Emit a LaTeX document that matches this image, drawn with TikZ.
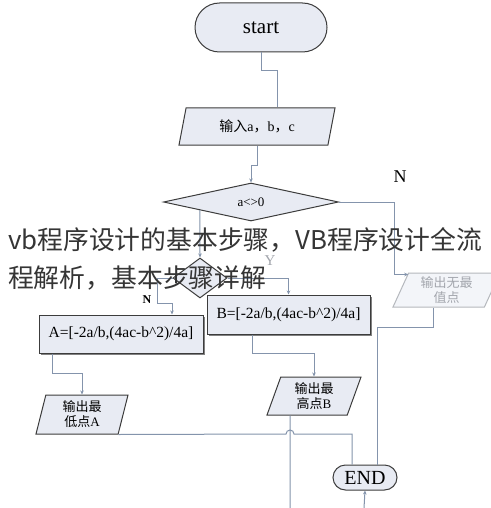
\documentclass[tikz,border=0pt]{standalone}
\usepackage{fontspec}
\setmainfont{Liberation Serif}
\newfontfamily\cjk{Noto Sans CJK SC}
\usetikzlibrary{shapes.geometric,shapes.misc,arrows.meta,shadows,calc}
\definecolor{boxfill}{HTML}{E8EBF3}
\definecolor{boxedge}{HTML}{3C3C3C}
\definecolor{wirec}{HTML}{8494AC}
\definecolor{faint}{HTML}{A3A6AD}
\definecolor{marktext}{HTML}{353535}

\begin{document}
\begin{tikzpicture}[x=1pt,y=-1pt,
    term/.style={rounded rectangle,draw=boxedge,fill=boxfill,line width=1pt,inner sep=0pt},
    io/.style={trapezium,trapezium stretches body,draw=boxedge,fill=boxfill,line width=1pt,
               inner sep=0pt,align=center,font=\fontsize{13}{15}\selectfont},
    work/.style={rectangle,draw=boxedge,fill=boxfill,line width=1pt,inner sep=0pt,
                 font=\fontsize{15.5}{18}\selectfont,
                 drop shadow={shadow xshift=1.5pt,shadow yshift=-1.5pt,opacity=.7,fill=black!70}},
    test/.style={diamond,draw=boxedge,fill=boxfill,line width=1pt,inner sep=0pt},
    wire/.style={draw=wirec,line width=1pt},
    arr/.style={wire,-{Stealth[length=4pt,width=3.5pt]}}]
        \fill[white] (0,0) rectangle (490,508);
        \useasboundingbox (0,0) rectangle (490,508);
        % shapes
        \draw (261,27.5)  node[term,minimum width=132pt,minimum height=49pt,font=\fontsize{21}{24}\selectfont] (start) {start};
        \draw (257,126.5) node[io,minimum width=156pt,minimum height=37pt,trapezium left angle=62,trapezium right angle=118,font=\fontsize{14}{16}\selectfont] (in) {{\cjk 输入}a{\cjk ，}b{\cjk ，}c};
        \draw (251,202)   node[test,minimum width=175pt,minimum height=38pt,font=\fontsize{13}{15}\selectfont] (d1) {a<>0};
        \draw (200,278)   node[test,minimum width=54pt,minimum height=40pt] (d2) {};
        \draw (446.5,290) node[io,draw=faint!80,fill=boxfill!50,text=faint,minimum width=107pt,minimum height=34pt,trapezium left angle=60,trapezium right angle=120] (nomax) {\cjk 输出无最\\\cjk 值点};
        \draw (121,334)   node[work,minimum width=164pt,minimum height=38pt] (A) {A=[-2a/b,(4ac-b\textasciicircum2)/4a]};
        \draw (288.5,314.5) node[work,minimum width=163pt,minimum height=39pt] (B) {B=[-2a/b,(4ac-b\textasciicircum2)/4a]};
        \draw (82,414.5)  node[io,minimum width=92pt,minimum height=39pt,trapezium left angle=70,trapezium right angle=110] (lowA) {{\cjk 输出最}\\{\cjk 低点}A};
        \draw (314,396)   node[io,minimum width=94pt,minimum height=38pt,trapezium left angle=63,trapezium right angle=117] (highB) {{\cjk 输出最}\\{\cjk 高点}B};
        \draw (365,477.5) node[term,minimum width=64pt,minimum height=25pt,font=\fontsize{20}{22}\selectfont] (end) {END};
        % labels
        \node[font=\fontsize{18}{20}\selectfont] (nright) at (400,177) {N};
        \node[font=\fontsize{15}{17}\selectfont,text=faint] (yes) at (270,261) {Y};
        \node[font=\bfseries\fontsize{12}{14}\selectfont] (nleft) at (147,300) {N};
        \coordinate (hop) at (290,434);
        \coordinate (out) at (290,508);
        \coordinate (up) at (364,508);
        % connectors
        \draw[wire] (start.south) -- ++(0,18) -| ([xshift=20pt]in.north);
        \draw[arr] (in.south) -- ++(0,20) -| (d1.north);
        \draw[arr] (d1.east) -| ($(nomax.top left corner)+(-14,2)$) -- ($(nomax.top left corner)+(0,2)$);
        \draw[arr] ($(d1.west)!0.42!(d1.south)$) -- (d2.north);
        \draw[arr] (d2.east) -| (B.north);
        \draw[arr] (d2.west) -| ++(-15,25) -| ([xshift=51pt]A.north);
        \draw[arr] ([xshift=-69pt]A.south) -- ++(0,20) -| (lowA.north);
        \draw[arr] ([xshift=-36.5pt]B.south) -- ++(0,19) -| (highB.north);
        \draw[wire] (lowA.bottom right corner) -- ([xshift=-4pt]hop) arc (180:360:4) -| ([xshift=-13pt]end.north);
        \draw[wire] ([xshift=-24pt]highB.south) -- (out);
        \draw[wire] ([xshift=-13.5pt]nomax.south) -- ++(0,20) -| ([xshift=12pt]end.north);
        \draw[arr] (up) -- (end.south);
        % overlay text
        \node[anchor=west,inner sep=0pt,text=marktext,font=\cjk\fontsize{25.8}{28}\selectfont] (mark1) at (8,240) {vb程序设计的基本步骤，VB程序设计全流};
        \node[anchor=west,inner sep=0pt,text=marktext,font=\cjk\fontsize{25.8}{28}\selectfont] (mark2) at (8,278) {程解析，基本步骤详解};
    \end{tikzpicture}
\end{document}
